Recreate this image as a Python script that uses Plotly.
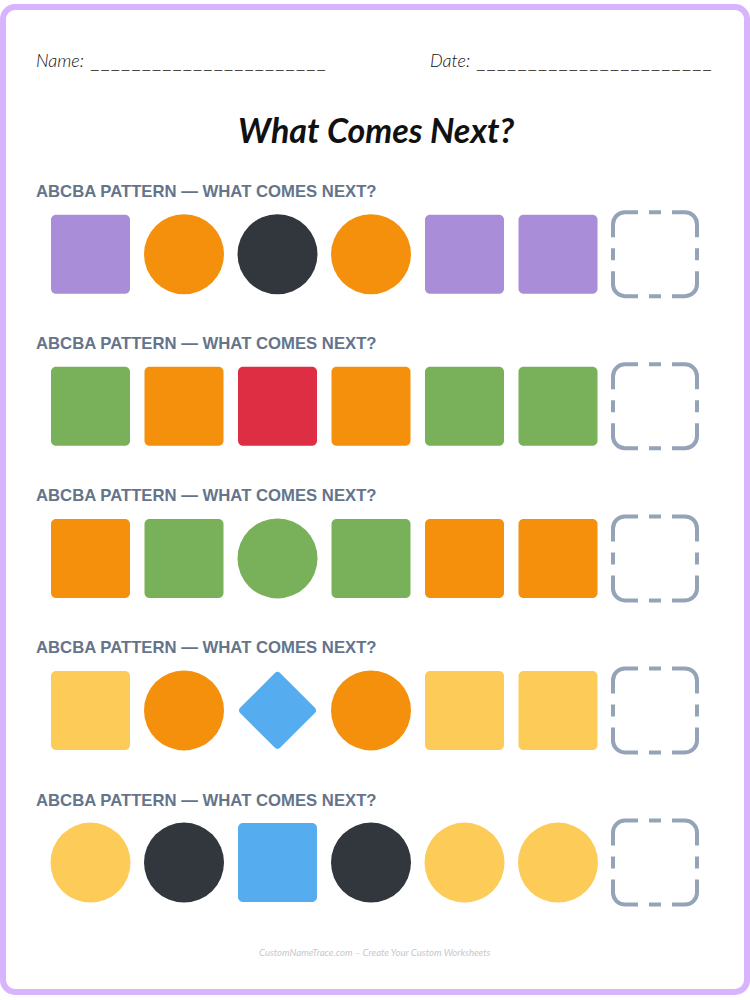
import plotly.graph_objects as go

PAGE_W, PAGE_H = 750, 1000
ROW_LABELS = ["ABCBA PATTERN — WHAT COMES NEXT?"] * 5
ROW_SHAPES = [
    ["square", "circle", "circle", "circle", "square", "square"],
    ["square", "square", "square", "square", "square", "square"],
    ["square", "square", "circle", "square", "square", "square"],
    ["square", "circle", "diamond", "circle", "square", "square"],
    ["circle", "circle", "square", "circle", "circle", "circle"],
]
PURPLE, ORANGE, DARK, GREEN, RED, YELLOW, BLUE = (
    "#AA8DD8", "#F4900C", "#31373D", "#78B159", "#DD2E44", "#FDCB58", "#55ACEE")
ROW_COLORS = [
    [PURPLE, ORANGE, DARK, ORANGE, PURPLE, PURPLE],
    [GREEN, ORANGE, RED, ORANGE, GREEN, GREEN],
    [ORANGE, GREEN, GREEN, GREEN, ORANGE, ORANGE],
    [YELLOW, ORANGE, BLUE, ORANGE, YELLOW, YELLOW],
    [YELLOW, DARK, BLUE, DARK, YELLOW, YELLOW],
]
COL_X = [90.5, 184, 277.5, 371, 464.5, 558]
BLANK_X = 655
ROW_Y = [254.2, 406.3, 558.4, 710.4, 862.6]
LABEL_Y = [191, 343, 495.5, 647.5, 800]
K = 0.4477


def rrect(x0, y0, x1, y1, r):
    c = r * K
    return (f"M{x0+r},{y0} L{x1-r},{y0} C{x1-c},{y0} {x1},{y0+c} {x1},{y0+r} "
            f"L{x1},{y1-r} C{x1},{y1-c} {x1-c},{y1} {x1-r},{y1} "
            f"L{x0+r},{y1} C{x0+c},{y1} {x0},{y1-c} {x0},{y1-r} "
            f"L{x0},{y0+r} C{x0},{y0+c} {x0+c},{y0} {x0+r},{y0} Z")


def diamond(cx, cy, h, r):
    d = r * 0.7071
    return (f"M{cx-d},{cy-h+d} Q{cx},{cy-h} {cx+d},{cy-h+d} L{cx+h-d},{cy-d} "
            f"Q{cx+h},{cy} {cx+h-d},{cy+d} L{cx+d},{cy+h-d} "
            f"Q{cx},{cy+h} {cx-d},{cy+h-d} L{cx-h+d},{cy+d} "
            f"Q{cx-h},{cy} {cx-h+d},{cy-d} Z")


def blank(cx, cy, h=42, r=12, arm=13, mid=6):
    x0, x1, y0, y1 = cx - h, cx + h, cy - h, cy + h
    c = r * K
    p = []
    p.append(f"M{x1-r-arm},{y0} L{x1-r},{y0} C{x1-c},{y0} {x1},{y0+c} {x1},{y0+r} L{x1},{y0+r+arm}")
    p.append(f"M{x1},{y1-r-arm} L{x1},{y1-r} C{x1},{y1-c} {x1-c},{y1} {x1-r},{y1} L{x1-r-arm},{y1}")
    p.append(f"M{x0+r+arm},{y1} L{x0+r},{y1} C{x0+c},{y1} {x0},{y1-c} {x0},{y1-r} L{x0},{y1-r-arm}")
    p.append(f"M{x0},{y0+r+arm} L{x0},{y0+r} C{x0},{y0+c} {x0+c},{y0} {x0+r},{y0} L{x0+r+arm},{y0}")
    p.append(f"M{cx-mid},{y0} L{cx+mid},{y0} M{cx-mid},{y1} L{cx+mid},{y1}")
    p.append(f"M{x0},{cy-mid} L{x0},{cy+mid} M{x1},{cy-mid} L{x1},{cy+mid}")
    return " ".join(p)


shapes = [dict(type="path", xref="x", yref="y",
               path=rrect(3, 7, 747, 992, 12),
               line=dict(color="#D8B4FE", width=6), fillcolor="white")]
for ry, kinds, cols in zip(ROW_Y, ROW_SHAPES, ROW_COLORS):
    for cx, kind, col in zip(COL_X, kinds, cols):
        if kind == "square":
            shapes.append(dict(type="path", xref="x", yref="y", line_width=0, fillcolor=col,
                               path=rrect(cx - 39.5, ry - 39.5, cx + 39.5, ry + 39.5, 5)))
        elif kind == "circle":
            shapes.append(dict(type="circle", xref="x", yref="y", line_width=0, fillcolor=col,
                               x0=cx - 40, x1=cx + 40, y0=ry - 40, y1=ry + 40))
        else:
            shapes.append(dict(type="path", xref="x", yref="y", line_width=0, fillcolor=col,
                               path=diamond(cx, ry, 40, 4)))
    shapes.append(dict(type="path", xref="x", yref="y", path=blank(BLANK_X, ry),
                       line=dict(color="#94A3B8", width=4), fillcolor="rgba(0,0,0,0)"))

HAND = "Lato"
BLANKS = "\u2009".join(["_"] * 23)


def note(x, y, text, size, color, family, anchor="left", weight=400, style="normal"):
    return dict(x=x, y=y, xref="x", yref="y", text=text, showarrow=False, xanchor=anchor,
                yanchor="middle", align=anchor, borderpad=0, borderwidth=0,
                font=dict(size=size, color=color, family=family, weight=weight, style=style))


annotations = [
    note(36, 60, "Name:", 18, "#111111", HAND, weight=300, style="italic"),
    note(90, 63, BLANKS, 13.6, "#333333", "Liberation Sans"),
    note(430, 60, "Date:", 18, "#111111", HAND, weight=300, style="italic"),
    note(476, 63, BLANKS, 13.6, "#333333", "Liberation Sans"),
    note(375.5, 129, "What Comes Next?", 34, "#111111", HAND, "center", 700, "italic"),
    note(375, 952, "CustomNameTrace.com – Create Your Custom Worksheets", 9.6, "#C4C8CF", HAND, "center", style="italic"),
]
for ly, label in zip(LABEL_Y, ROW_LABELS):
    annotations.append(note(36, ly, label, 16.7, "#64748B", "Liberation Sans", weight=700))

fig = go.Figure()
fig.update_layout(
    width=PAGE_W, height=PAGE_H, margin=dict(l=0, r=0, t=0, b=0),
    paper_bgcolor="white", plot_bgcolor="white", showlegend=False,
    xaxis=dict(range=[0, PAGE_W], visible=False, fixedrange=True),
    yaxis=dict(range=[PAGE_H, 0], visible=False, fixedrange=True),
    shapes=shapes, annotations=annotations,
)
fig.write_html("out.html", config=dict(displayModeBar=False),
               post_script="document.body.style.margin='0';document.body.style.overflow='hidden';")
